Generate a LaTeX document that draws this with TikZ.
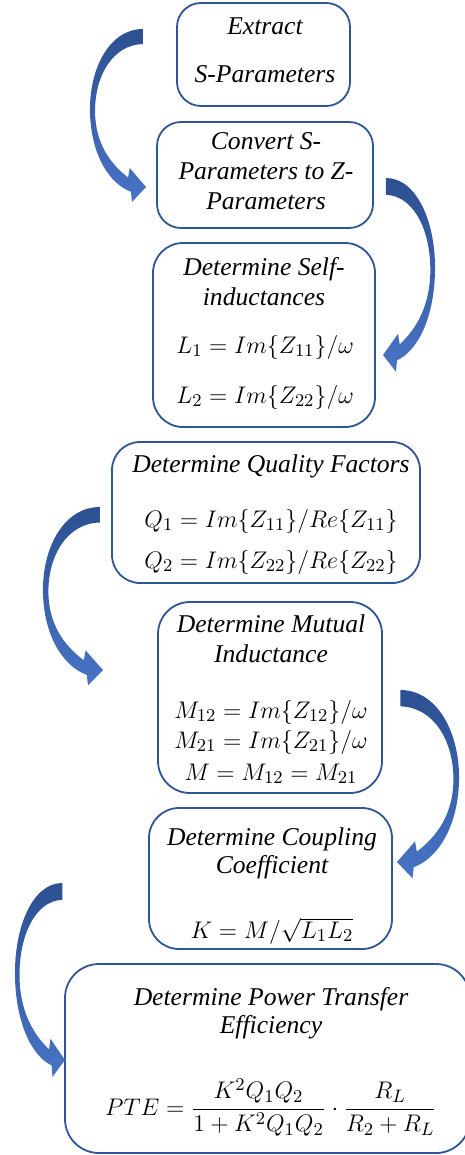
\documentclass[tikz,border=0pt]{standalone}
\usepackage{fontspec}
\setmainfont{Liberation Serif}
\definecolor{boxblue}{RGB}{47,85,151}
\definecolor{arrdark}{RGB}{44,80,145}
\definecolor{arrlight}{RGB}{72,116,198}
\tikzset{
  curlarrow/.pic={
    \shade[top color=arrdark, bottom color=arrlight]
      (0.946,0) .. controls (0.35,0.0) and (-0.02,0.25) .. (0,0.53)
      .. controls (0.02,0.8) and (0.35,0.98) .. (0.73,1.03)
      -- (0.75,1.095) -- (1,1) -- (0.71,0.88) -- (0.68,0.94)
      .. controls (0.35,0.85) and (0.1,0.72) .. (0.09,0.53)
      .. controls (0.08,0.3) and (0.4,0.1) .. (0.946,0.095) -- cycle;
  }
}
\begin{document}
\begin{tikzpicture}[x=0.5pt,y=-0.5pt,
  box/.style={draw=boxblue, line width=0.9pt, rounded corners=12pt, inner sep=0pt, outer sep=0pt},
  txt/.style={anchor=base, inner sep=0pt, font=\fontsize{12.8}{15}\selectfont\itshape},
  eq/.style={anchor=base, inner sep=0pt, font=\fontsize{12.8}{15}\selectfont}]
\useasboundingbox (0,0) rectangle (465,1155);

% boxes
\node[box, minimum width=86.5pt, minimum height=51.5pt] (b1) at (263.5,54.5) {};
\node[box, minimum width=108pt, minimum height=53pt] (b2) at (265,175) {};
\node[box, rounded corners=15pt, minimum width=111pt, minimum height=92pt] (b3) at (264,335) {};
\node[box, rounded corners=14pt, minimum width=154pt, minimum height=70.5pt] (b4) at (266,512.5) {};
\node[box, rounded corners=16pt, minimum width=112pt, minimum height=95.5pt] (b5) at (270,697.5) {};
\node[box, rounded corners=15pt, minimum width=121.5pt, minimum height=70.5pt] (b6) at (270.5,878.5) {};
\node[box, rounded corners=17pt, minimum width=202.5pt, minimum height=94.5pt] (b7) at (267.5,1058.5) {};

% texts
\node[txt] (t1a) at (265,35) {Extract};
\node[txt] (t1b) at (265,83) {S-Parameters};
\node[txt] (t2a) at (266,150) {Convert S-};
\node[txt] (t2b) at (266,180) {Parameters to Z-};
\node[txt] (t2c) at (266,210) {Parameters};
\node[txt] (t3a) at (264,275) {Determine Self-};
\node[txt] (t3b) at (264,305) {inductances};
\node[eq] (e3a) at (265,353) {$L_1=Im\{Z_{11}\}/\omega$};
\node[eq] (e3b) at (265,403) {$L_2=Im\{Z_{22}\}/\omega$};
\node[txt] (t4a) at (271,472) {Determine Quality Factors};
\node[eq] (e4a) at (271,527) {$Q_1=Im\{Z_{11}\}/Re\{Z_{11}\}$};
\node[eq] (e4b) at (271,568) {$Q_2=Im\{Z_{22}\}/Re\{Z_{22}\}$};
\node[txt] (t5a) at (271,632) {Determine Mutual};
\node[txt] (t5b) at (271,662) {Inductance};
\node[eq] (e5a) at (271,718) {$M_{12}=Im\{Z_{12}\}/\omega$};
\node[eq] (e5b) at (271,748) {$M_{21}=Im\{Z_{21}\}/\omega$};
\node[eq] (e5c) at (271,780) {$M=M_{12}=M_{21}$};
\node[txt] (t6a) at (272,845) {Determine Coupling};
\node[txt] (t6b) at (272,873) {Coefficient};
\node[eq] (e6a) at (272,938) {$K=M/\sqrt{L_1L_2}$};
\node[txt] (t7a) at (271,1005) {Determine Power Transfer};
\node[txt] (t7b) at (271,1033) {Efficiency};
\node[eq] (e7a) at (271,1115) {$\displaystyle PTE=\frac{K^2Q_1Q_2}{1+K^2Q_1Q_2}\cdot\frac{R_L}{R_2+R_L}$};

% curved block arrows
\pic[xscale=56, yscale=158] at (90,29) {curlarrow};
\pic[xscale=-52, yscale=177] at (435,178) {curlarrow};
\pic[xscale=60, yscale=163] at (43,507) {curlarrow};
\pic[xscale=-62, yscale=172] at (459,690) {curlarrow};
\pic[xscale=50, yscale=177] at (15,883) {curlarrow};
\end{tikzpicture}
\end{document}
